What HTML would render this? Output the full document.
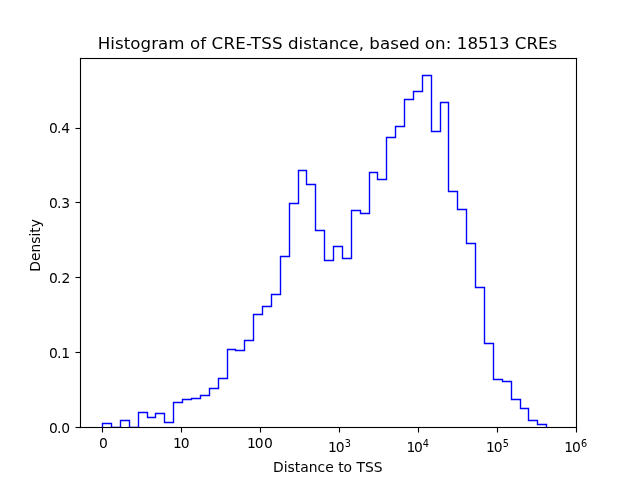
<!DOCTYPE html>
<html lang="en"><head><meta charset="utf-8"><title>Histogram of CRE-TSS distance</title>
<style>
html,body{margin:0;padding:0;background:#fff;}
body{width:640px;height:480px;overflow:hidden;}
svg{display:block;}
text{font-family:"DejaVu Sans","Liberation Sans",sans-serif;fill:#000;}
.tk{font-size:13.889px;}
.sup{font-size:9.722px;}
.ttl{font-size:16.667px;}
</style></head><body>
<svg width="640" height="480" viewBox="0 0 640 480">
<rect x="0" y="0" width="640" height="480" fill="#fff"/>
<clipPath id="ax"><rect x="80" y="57.6" width="496" height="369.6"/></clipPath>
<path clip-path="url(#ax)" d="M102.5 427.5 L102.5 423.5 L111.5 423.5 L111.5 427.5 L120.5 427.5 L120.5 420.5 L129.5 420.5 L129.5 427.5 L138.5 427.5 L138.5 412.5 L147.5 412.5 L147.5 417.5 L155.5 417.5 L155.5 413.5 L164.5 413.5 L164.5 422.5 L173.5 422.5 L173.5 402.5 L182.5 402.5 L182.5 399.5 L191.5 399.5 L191.5 398.5 L200.5 398.5 L200.5 395.5 L209.5 395.5 L209.5 388.5 L218.5 388.5 L218.5 378.5 L227.5 378.5 L227.5 349.5 L235.5 349.5 L235.5 350.5 L244.5 350.5 L244.5 340.5 L253.5 340.5 L253.5 314.5 L262.5 314.5 L262.5 306.5 L271.5 306.5 L271.5 294.5 L280.5 294.5 L280.5 256.5 L289.5 256.5 L289.5 203.5 L298.5 203.5 L298.5 170.5 L306.5 170.5 L306.5 184.5 L315.5 184.5 L315.5 230.5 L324.5 230.5 L324.5 260.5 L333.5 260.5 L333.5 246.5 L342.5 246.5 L342.5 258.5 L351.5 258.5 L351.5 210.5 L360.5 210.5 L360.5 213.5 L369.5 213.5 L369.5 172.5 L377.5 172.5 L377.5 179.5 L386.5 179.5 L386.5 137.5 L395.5 137.5 L395.5 126.5 L404.5 126.5 L404.5 99.5 L413.5 99.5 L413.5 91.5 L422.5 91.5 L422.5 75.5 L431.5 75.5 L431.5 131.5 L440.5 131.5 L440.5 102.5 L448.5 102.5 L448.5 191.5 L457.5 191.5 L457.5 209.5 L466.5 209.5 L466.5 243.5 L475.5 243.5 L475.5 287.5 L484.5 287.5 L484.5 343.5 L493.5 343.5 L493.5 379.5 L502.5 379.5 L502.5 381.5 L511.5 381.5 L511.5 399.5 L520.5 399.5 L520.5 408.5 L528.5 408.5 L528.5 420.5 L537.5 420.5 L537.5 424.5 L546.5 424.5 L546.5 427.5" fill="none" stroke="#0000ff" stroke-width="1.389" stroke-linejoin="miter" stroke-linecap="butt"/>
<g fill="#000">
<rect x="101.945" y="427.2" width="1.111" height="5.3"/>
<rect x="180.945" y="427.2" width="1.111" height="5.3"/>
<rect x="259.945" y="427.2" width="1.111" height="5.3"/>
<rect x="338.945" y="427.2" width="1.111" height="5.3"/>
<rect x="417.945" y="427.2" width="1.111" height="5.3"/>
<rect x="496.945" y="427.2" width="1.111" height="5.3"/>
<rect x="575.944" y="427.2" width="1.111" height="5.3"/>
<rect x="75.5" y="426.945" width="4.5" height="1.111"/>
<rect x="75.5" y="351.945" width="4.5" height="1.111"/>
<rect x="75.5" y="276.945" width="4.5" height="1.111"/>
<rect x="75.5" y="201.945" width="4.5" height="1.111"/>
<rect x="75.5" y="127.945" width="4.5" height="1.111"/>
<rect x="79.9445" y="57.9445" width="1.111" height="370.111"/>
<rect x="575.944" y="57.9445" width="1.111" height="370.111"/>
<rect x="79.9445" y="57.9445" width="497.111" height="1.111"/>
<rect x="79.9445" y="426.945" width="497.111" height="1.111"/>
</g>
<text class="tk" x="98.98" y="447.5">0</text>
<text class="tk" x="172.98 180.84" y="447.5">10</text>
<text class="tk" x="247.04 254.75 263.9" y="447.5">100</text>
<text class="tk" x="328.1 335.8" y="451.5">10<tspan class="sup" x="344.87" y="447.3">3</tspan></text>
<text class="tk" x="406.42 413.98" y="451.5">10<tspan class="sup" x="422.63" y="447.3">4</tspan></text>
<text class="tk" x="486.1 493.8" y="451.5">10<tspan class="sup" x="502.85" y="447.3">5</tspan></text>
<text class="tk" x="564.36 571.88" y="451.5">10<tspan class="sup" x="581" y="447.3">6</tspan></text>
<text class="tk" x="48.95 57.06 61.17" y="432.5">0.0</text>
<text class="tk" x="48.95 57.06 61.27" y="357.588">0.1</text>
<text class="tk" x="48.95 57.06 61.47" y="282.676">0.2</text>
<text class="tk" x="48.95 57.06 61.27" y="207.765">0.3</text>
<text class="tk" x="48.95 57.06 61.17" y="132.853">0.4</text>
<text class="tk" x="327.85" y="471.5" text-anchor="middle">Distance to TSS</text>
<text class="tk" transform="translate(39.65 245.4) rotate(-90)" text-anchor="middle">Density</text>
<text class="ttl" x="97.77 110.34 115.03 123.76 130.33 140.58 151.2 158.1 168.36 184.64 189.98 200.23 206.15 211.49 223.41 235.26 246.07 250.83 261.25 272.06 282.87 288.01 298.6 303.26 311.97 318.52 328.75 339.33 348.52 358.79 364.08 369.37 379.97 390.21 398.91 409.18 419.65 424.84 435.12 445.77 451.47 456.85 467.42 477.98 488.55 499.11 509.56 514.7 526.39 538.01 548.58" y="49">Histogram of CRE-TSS distance, based on: 18513 CREs</text>
</svg>
</body></html>
